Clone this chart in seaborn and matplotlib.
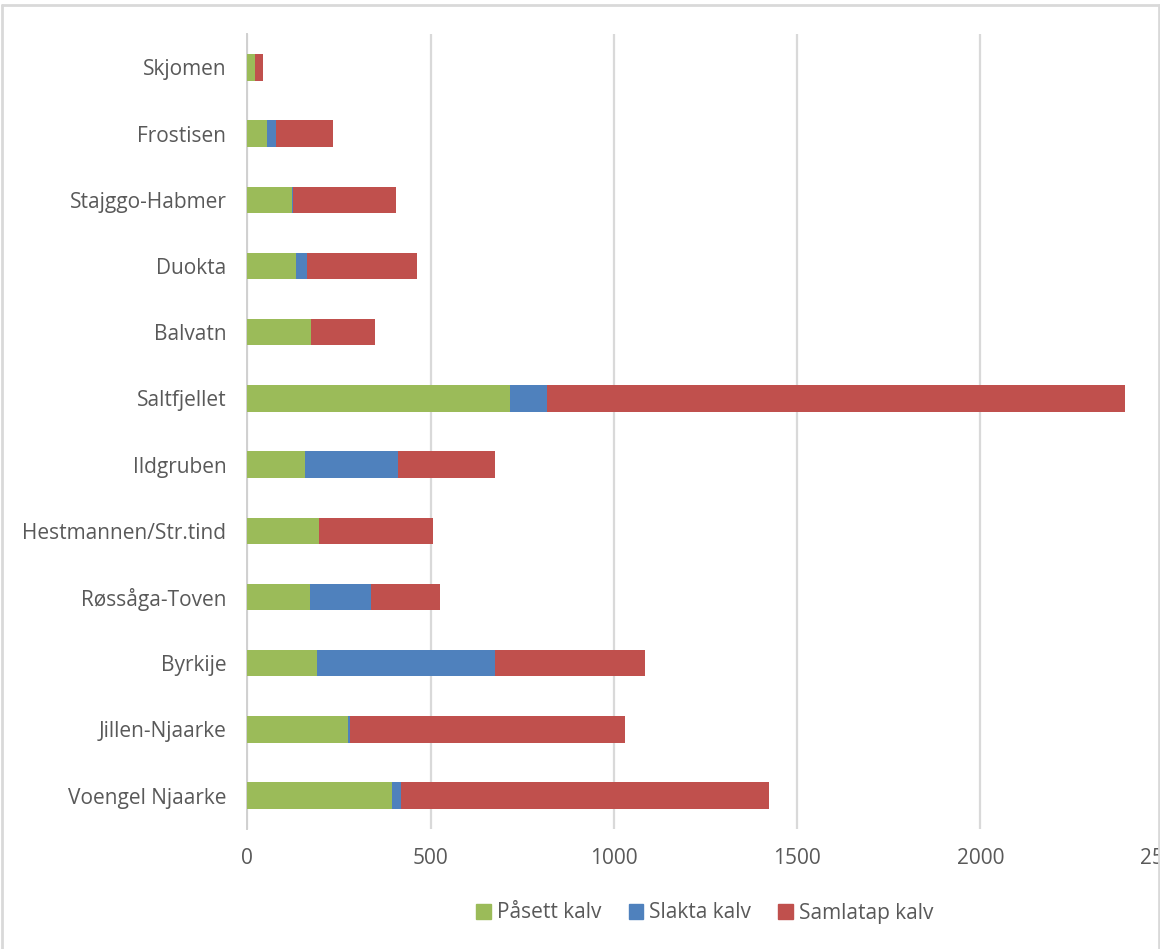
import matplotlib.pyplot as plt
import matplotlib.patches as mpatches
from matplotlib.lines import Line2D
import seaborn as sns
import numpy as np
import pandas as pd

sns.set_theme(style="white")
plt.rcParams['font.family'] = ['Open Sans', 'DejaVu Sans']

omrader = ["Skjomen", "Frostisen", "Stajggo-Habmer", "Duokta", "Balvatn",
           "Saltfjellet", "Ildgruben", "Hestmannen/Str.tind", "Røssåga-Toven",
           "Byrkije", "Jillen-Njaarke", "Voengel Njaarke"]
pasett = [21, 55, 122, 132, 174, 718, 157, 195, 170, 191, 276, 395]
slakta = [0, 22, 4, 32, 0, 101, 254, 0, 168, 486, 3, 24]
samlatap = [23, 157, 279, 298, 175, 1576, 266, 311, 189, 408, 752, 1005]

serier = ["Påsett kalv", "Slakta kalv", "Samlatap kalv"]
farger = ["#9BBB59", "#4F81BD", "#C0504D"]
tekst = "#595959"

df = pd.DataFrame({"omrade": omrader, "pasett": pasett,
                   "slakta": slakta, "samlatap": samlatap})
df["lag1"] = df["pasett"]
df["lag2"] = df["lag1"] + df["slakta"]
df["lag3"] = df["lag2"] + df["samlatap"]

fig = plt.figure(figsize=(11.6, 9.49), dpi=100)
ax = fig.add_axes([247.3 / 1160, (949 - 828.6) / 949,
                   2500 * 0.3665 / 1160, 794.2 / 949])

# stacked bars drawn as overlapping cumulative layers
for kol, farge in zip(["lag3", "lag2", "lag1"], farger[::-1]):
    sns.barplot(data=df, x=kol, y="omrade", order=omrader, color=farge,
                saturation=1, width=0.4, ax=ax, errorbar=None,
                edgecolor="none", zorder=3)

ax.set_xlim(0, 2500)
ax.set_xticks(np.arange(0, 2501, 500))
ax.set_xlabel("")
ax.set_ylabel("")
ax.xaxis.grid(True, color="#D9D9D9", linewidth=1.6, zorder=0)
ax.set_axisbelow(True)
for s in ["top", "right", "bottom"]:
    ax.spines[s].set_visible(False)
ax.spines["left"].set_color("#D0D0D0")
ax.spines["left"].set_linewidth(1.4)
ax.tick_params(axis="both", length=0, labelsize=15, labelcolor=tekst)
ax.tick_params(axis="y", pad=15)
ax.tick_params(axis="x", pad=14)

handles = [mpatches.Patch(color=c, label=l) for c, l in zip(farger, serier)]
fig.legend(handles=handles, loc="center", bbox_to_anchor=(705 / 1160, 1 - 913 / 949),
           ncol=3, frameon=False, fontsize=15, labelcolor=tekst,
           handlelength=0.7, handleheight=0.7, handletextpad=0.3, columnspacing=1.3)

# grey frame of the chart area
for xs, ys in [([2 / 1160, 2 / 1160], [0, 1 - 5 / 949]),
               ([2 / 1160, 1159 / 1160], [1 - 5 / 949, 1 - 5 / 949]),
               ([1159 / 1160, 1159 / 1160], [0, 1 - 5 / 949])]:
    fig.add_artist(Line2D(xs, ys, color="#D9D9D9", linewidth=2))

fig.savefig("out.png", dpi=100)
